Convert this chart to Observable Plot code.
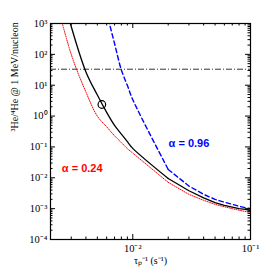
<!DOCTYPE html>
<html><head><meta charset="utf-8">
<script src="https://cdn.jsdelivr.net/npm/d3@7"></script>
<script src="https://cdn.jsdelivr.net/npm/@observablehq/plot@0.6"></script>
<style>body{margin:0;background:#fff} svg{display:block}</style>
</head><body><div id="chart"></div>
<script>
// inverse proton lifetime (s^-1)
const tauInv = [0.002,0.003,0.004,0.005,0.006,0.007,0.008,0.009,0.01,0.02,0.03,0.04,0.05,0.06,0.07,0.08,0.09,0.1];
// 3He/4He ratio at 1 MeV/nucleon
const ratioBest = [3e5,800,27,4.8,1.32,0.50,0.26,0.148,0.09,0.0095,0.0038,0.00224,0.00156,0.00128,0.00112,0.00100,0.00095,0.00088];
const ratioA024 = [3e4,100,6.0,0.99,0.45,0.23,0.138,0.088,0.063,0.0071,0.0029,0.00186,0.00138,0.00115,0.0010,0.00089,0.00081,0.00076];
const ratioA096 = [null,null,null,3.6e4,2200,225,31,9.8,3.4,0.0186,0.0054,0.0029,0.0020,0.00162,0.00138,0.0012,0.00108,0.0010];
const observedLevel = 33;
const markerX = [5.46e-3];
const markerY = [2.37];
const labelText = ["α = 0.24", "α = 0.96"];
const labelX = [3.72e-3, 0.030];
const labelY = [0.02, 0.128];
const labelColor = ["#ff0000", "#0000ff"];
const xMajor = [0.01, 0.1];
const yMajor = [1e-4,1e-3,1e-2,1e-1,1,10,100,1000];

const xMinor = [];
for (const b of [0.001, 0.01]) for (let m = 2; m <= 9; m++) xMinor.push(m * b);
const yMinor = [];
for (let k = -4; k <= 2; k++) for (let m = 2; m <= 9; m++) yMinor.push(m * Math.pow(10, k));

const sup = {"-":"⁻","0":"⁰","1":"¹","2":"²","3":"³","4":"⁴","5":"⁵","6":"⁶","7":"⁷","8":"⁸","9":"⁹"};
const fmt = d => "10" + String(Math.round(Math.log10(d))).split("").map(c => sup[c]).join("");

const W = 273, H = 273, mL = 50, mR = 23, mT = 23, mB = 34;
const iW = W - mL - mR, iH = H - mT - mB;
const major = 5, minor = 2.5;
const serif = "Liberation Serif, serif";

const toPts = ys => tauInv.map((x, i) => ({x, y: ys[i]})).filter(d => d.y != null);
const best = toPts(ratioBest), a024 = toPts(ratioA024), a096 = toPts(ratioA096);
const split = 0.02;
const lo = pts => pts.filter(d => d.x <= split);
const hi = pts => pts.filter(d => d.x >= split);
const labels = labelText.map((t, i) => ({t, x: labelX[i], y: labelY[i], c: labelColor[i]}));

const series = [
  [a024, {stroke: "#ff0000", strokeWidth: 1, strokeDasharray: "1,1.3"}],
  [a096, {stroke: "#0000ff", strokeWidth: 1.4, strokeDasharray: "4.5,3"}],
  [best, {stroke: "black", strokeWidth: 1.3}]
];
const lineMarks = series.flatMap(([pts, st]) => [
  Plot.line(lo(pts), {x: "x", y: "y", curve: "catmull-rom", clip: true, ...st}),
  Plot.line(hi(pts), {x: "x", y: "y", clip: true, ...st})
]);

const chart = Plot.plot({
  width: W, height: H,
  marginLeft: mL, marginRight: mR, marginTop: mT, marginBottom: mB,
  x: {type: "log", domain: [0.002, 0.1], axis: null},
  y: {type: "log", domain: [1e-4, 1e3], axis: null},
  style: {fontFamily: serif, background: "white"},
  marks: [
    Plot.ruleY([observedLevel], {stroke: "black", strokeWidth: 0.8, strokeDasharray: "6,2,1,2"}),
    ...lineMarks,
    Plot.dot(markerX.map((x, i) => ({x, y: markerY[i]})), {x: "x", y: "y", r: 3.8, stroke: "black", strokeWidth: 1.2, fill: "none"}),
    Plot.text(labels, {x: "x", y: "y", text: "t", fill: "c", fontFamily: "Liberation Sans, Arial, sans-serif", fontWeight: "bold", fontSize: 11}),
    // ticks (inward, mirrored)
    Plot.ruleX(xMajor, {x: d => d, insetTop: iH - major, stroke: "black"}),
    Plot.ruleX(xMajor, {x: d => d, insetBottom: iH - major, stroke: "black"}),
    Plot.ruleX(xMinor, {x: d => d, insetTop: iH - minor, stroke: "black"}),
    Plot.ruleX(xMinor, {x: d => d, insetBottom: iH - minor, stroke: "black"}),
    Plot.ruleY(yMajor, {y: d => d, insetRight: iW - major, stroke: "black"}),
    Plot.ruleY(yMajor, {y: d => d, insetLeft: iW - major, stroke: "black"}),
    Plot.ruleY(yMinor, {y: d => d, insetRight: iW - minor, stroke: "black"}),
    Plot.ruleY(yMinor, {y: d => d, insetLeft: iW - minor, stroke: "black"}),
    Plot.frame({stroke: "black", strokeWidth: 1.2}),
    // tick labels
    Plot.text(xMajor, {x: d => d, frameAnchor: "bottom", dy: 12, text: fmt, fontSize: 10.5, fill: "black"}),
    Plot.text(yMajor, {y: d => d, frameAnchor: "left", dx: -3, textAnchor: "end", text: fmt, fontSize: 10.5, fill: "black"}),
    // axis titles
    Plot.text(["τₚ⁻¹ (s⁻¹)"], {frameAnchor: "bottom", dy: 24, text: d => d, fontSize: 10, fill: "black"}),
    Plot.text(["³He/⁴He @ 1 MeV/nucleon"], {frameAnchor: "left", dx: -36, rotate: -90, text: d => d, fontSize: 10, fill: "black"})
  ]
});
document.getElementById("chart").appendChild(chart);
</script>
</body></html>
